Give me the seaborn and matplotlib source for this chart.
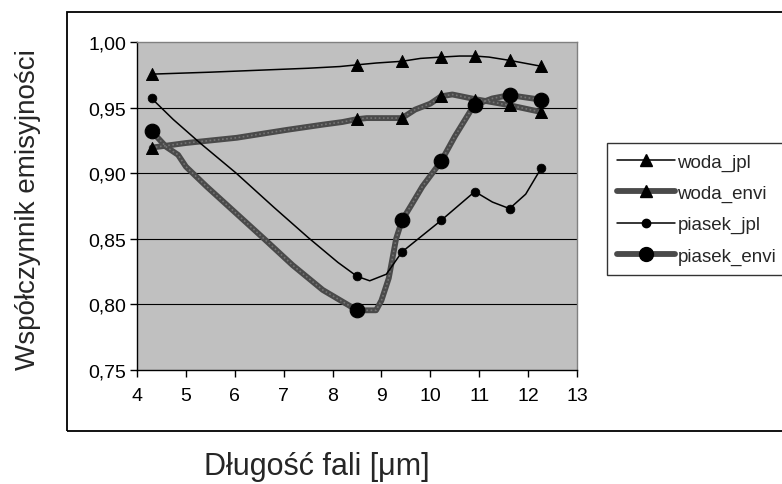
import matplotlib
matplotlib.use("Agg")
import matplotlib.pyplot as plt
import seaborn as sns
import numpy as np
from matplotlib.lines import Line2D
from matplotlib.patches import Rectangle
from matplotlib.ticker import FuncFormatter

# --- DATA ---
# points where the markers sit
marker_x = [4.3, 8.5, 9.42, 10.22, 10.91, 11.62, 12.27]
woda_jpl_m = [0.9755, 0.9826, 0.9853, 0.9885, 0.9893, 0.9860, 0.9815]
woda_envi_m = [0.9195, 0.9412, 0.9420, 0.9586, 0.9555, 0.9518, 0.9466]
piasek_jpl_m = [0.957, 0.8214, 0.8400, 0.8640, 0.8860, 0.8730, 0.9040]
piasek_envi_m = [0.932, 0.7960, 0.8640, 0.9090, 0.9520, 0.9595, 0.9560]

# the curves in between
woda_jpl_x = [4.3, 5.5, 6.5, 7.5, 8.15, 8.5, 8.9, 9.42, 9.8, 10.22, 10.6, 10.91, 11.2, 11.62, 12.27]
woda_jpl_y = [0.9755, 0.977, 0.9785, 0.980, 0.9813, 0.9826, 0.9840, 0.9853, 0.9875, 0.9885,
              0.9893, 0.9893, 0.9885, 0.9860, 0.9815]

woda_envi_x = [4.3, 5.0, 6.04, 7.06, 7.8, 8.2, 8.5, 8.7, 9.42, 9.69, 10.0, 10.22, 10.45, 10.91, 11.62, 12.27]
woda_envi_y = [0.9195, 0.923, 0.927, 0.933, 0.937, 0.939, 0.9412, 0.942, 0.942, 0.9485, 0.953,
               0.9586, 0.960, 0.9565, 0.9518, 0.9466]

piasek_jpl_x = [4.3, 4.74, 5.29, 6.03, 6.8, 7.5, 8.11, 8.5, 8.76, 9.1, 9.42, 10.22, 10.91, 11.27,
                11.62, 11.95, 12.27]
piasek_jpl_y = [0.957, 0.941, 0.923, 0.900, 0.874, 0.851, 0.832, 0.8214, 0.818, 0.823, 0.840, 0.864,
                0.886, 0.878, 0.873, 0.884, 0.904]

piasek_envi_x = [4.3, 4.6, 4.84, 5.0, 5.42, 6.04, 6.6, 7.18, 7.8, 8.3, 8.5, 8.89, 9.0, 9.15, 9.3,
                 9.42, 9.6, 9.84, 10.22, 10.5, 10.83, 10.91, 11.27, 11.62, 12.27]
piasek_envi_y = [0.932, 0.920, 0.914, 0.905, 0.890, 0.869, 0.850, 0.830, 0.811, 0.800, 0.7955, 0.7955,
                 0.803, 0.820, 0.850, 0.864, 0.875, 0.890, 0.909, 0.928, 0.948, 0.952, 0.957, 0.9595, 0.956]

x_ticks = [4, 5, 6, 7, 8, 9, 10, 11, 12, 13]
y_ticks = [0.75, 0.80, 0.85, 0.90, 0.95, 1.00]
labels = ["woda_jpl", "woda_envi", "piasek_jpl", "piasek_envi"]

sns.set_theme(style="white")
plt.rcParams["font.family"] = ["Liberation Sans", "DejaVu Sans"]

W, H = 782, 485
fig = plt.figure(figsize=(W / 100, H / 100), dpi=100)
ax = fig.add_axes([137 / W, 1 - 371 / H, (577 - 137) / W, (371 - 43) / H])
ax.set_facecolor("#c0c0c0")

THICK = "#4a4a4a"

# thick "envi" lines with a bit of texture
for xs, ys in [(woda_envi_x, woda_envi_y), (piasek_envi_x, piasek_envi_y)]:
    sns.lineplot(x=xs, y=ys, ax=ax, color=THICK, lw=4.2, sort=False, estimator=None, zorder=3)
    ax.plot(xs, ys, color="#747474", lw=1.2, ls=(0, (1, 1.5)), zorder=3.5)

for xs, ys in [(woda_jpl_x, woda_jpl_y), (piasek_jpl_x, piasek_jpl_y)]:
    sns.lineplot(x=xs, y=ys, ax=ax, color="black", lw=1.1, sort=False, estimator=None, zorder=4)

sns.scatterplot(x=marker_x, y=woda_jpl_m, ax=ax, marker="^", s=75, color="black", edgecolor="black", zorder=5)
sns.scatterplot(x=marker_x, y=woda_envi_m, ax=ax, marker="^", s=75, color="black", edgecolor="black", zorder=5)
sns.scatterplot(x=marker_x, y=piasek_jpl_m, ax=ax, marker="o", s=40, color="black", edgecolor="black", zorder=5)
sns.scatterplot(x=marker_x, y=piasek_envi_m, ax=ax, marker="o", s=110, color="black", edgecolor="black", zorder=5)

ax.set_xlim(4, 13)
ax.set_ylim(0.75, 1.00)
ax.set_xticks(x_ticks)
ax.set_yticks(y_ticks)
ax.yaxis.set_major_formatter(FuncFormatter(lambda v, p: f"{v:.2f}".replace(".", ",")))
ax.grid(False)
for v in y_ticks[1:-1]:
    ax.axhline(v, color="black", lw=0.8, zorder=1)

ax.tick_params(axis="both", direction="out", length=5, width=1, color="black",
               labelsize=14, labelcolor="black", pad=3, left=True, bottom=True)
ax.tick_params(axis="x", pad=7)
ax.spines["left"].set_color("black")
ax.spines["bottom"].set_color("black")
ax.spines["top"].set_color("#808080")
ax.spines["right"].set_color("#808080")
for s in ax.spines.values():
    s.set_linewidth(1)

ax.set_xlabel("")
ax.set_ylabel("")
fig.text(317 / W, 1 - 467 / H, "Długość fali [μm]", ha="center", va="center", fontsize=22)
fig.text(28 / W, 1 - 210 / H, "Współczynnik emisyjności", ha="center", va="center",
         rotation=90, fontsize=20)

# outer chart frame
fig.add_artist(Rectangle((67 / W, 1 - 432 / H), 1.0, (432 - 13) / H, transform=fig.transFigure,
                         fill=False, ec="black", lw=1.3))

handles = [
    Line2D([], [], color="black", lw=1.1, marker="^", ms=8, mfc="black", mec="black"),
    Line2D([], [], color=THICK, lw=4.2, marker="^", ms=8, mfc="black", mec="black"),
    Line2D([], [], color="black", lw=1.1, marker="o", ms=6, mfc="black", mec="black"),
    Line2D([], [], color=THICK, lw=4.2, marker="o", ms=10, mfc="black", mec="black"),
]
leg = fig.legend(handles, labels, loc="upper left", bbox_to_anchor=(607 / W, 1 - 144 / H),
                 frameon=True, fancybox=False, fontsize=13.5, handlelength=3.1, handletextpad=0.1,
                 labelspacing=0.75, borderpad=0.55, borderaxespad=0)
leg.get_frame().set_edgecolor("black")
leg.get_frame().set_linewidth(1)

fig.savefig("out.png", dpi=100, facecolor="white")
